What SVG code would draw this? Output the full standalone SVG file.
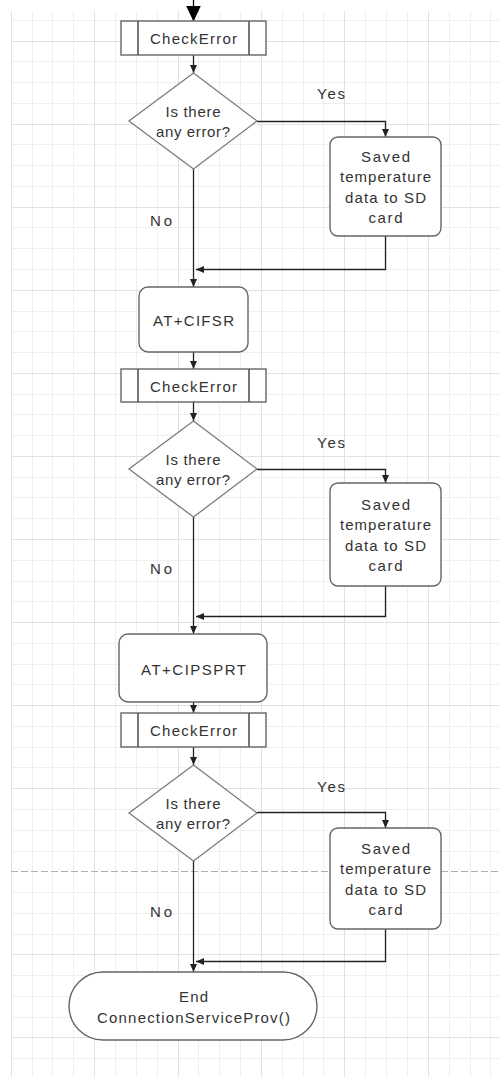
<svg xmlns="http://www.w3.org/2000/svg" width="500" height="1077" viewBox="0 0 500 1077">
  <defs>
    <marker id="arr" markerUnits="userSpaceOnUse" markerWidth="8" markerHeight="7" refX="8" refY="3.5" orient="auto">
      <path d="M0,0 L8,3.5 L0,7 z" fill="#222"/>
    </marker>
    <marker id="bigArr" markerUnits="userSpaceOnUse" markerWidth="16" markerHeight="15" refX="16" refY="7.5" orient="auto">
      <path d="M0,0 L16,7.5 L0,15 z" fill="#000"/>
    </marker>
  </defs>
  <style>
    .minor { stroke: #efefef; stroke-width: 1; fill: none; }
    .major { stroke: #e1e1e1; stroke-width: 1; fill: none; }
    .brk { stroke: #b0b0b0; stroke-width: 1; stroke-dasharray: 7 3; fill: none; }
    .shape { fill: #fff; stroke: #666; stroke-width: 1.4; }
    .dia { fill: #fff; stroke: #7a7a7a; stroke-width: 1.3; }
    .inner { stroke: #555; stroke-width: 1.6; fill: none; }
    .conn { fill: none; stroke: #222; stroke-width: 1.3; marker-end: url(#arr); }
    text { font-family: "Liberation Sans", Arial, sans-serif; font-size: 15px; fill: #333; text-anchor: middle; }
  </style>
  <rect x="0" y="0" width="500" height="1077" fill="#fff"/>
  <g id="grid">
    <path class="minor" d="M32.5 11V1077M52.5 11V1077M73.5 11V1077M115.5 11V1077M136.5 11V1077M157.5 11V1077M198.5 11V1077M219.5 11V1077M240.5 11V1077M282.5 11V1077M303.5 11V1077M323.5 11V1077M365.5 11V1077M386.5 11V1077M407.5 11V1077M449.5 11V1077M470.5 11V1077M490.5 11V1077
    M11 20.5H500M11 61.5H500M11 82.5H500M11 103.5H500M11 144.5H500M11 165.5H500M11 186.5H500M11 227.5H500M11 248.5H500M11 269.5H500M11 311.5H500M11 331.5H500M11 352.5H500M11 394.5H500M11 414.5H500M11 435.5H500M11 477.5H500M11 497.5H500M11 518.5H500M11 560.5H500M11 581.5H500M11 601.5H500M11 643.5H500M11 664.5H500M11 684.5H500M11 726.5H500M11 747.5H500M11 767.5H500M11 809.5H500M11 830.5H500M11 851.5H500M11 892.5H500M11 913.5H500M11 934.5H500M11 975.5H500M11 996.5H500M11 1017.5H500M11 1058.5H500"/>
    <path class="major" d="M11.5 11V1077M94.5 11V1077M178.5 11V1077M261.5 11V1077M344.5 11V1077M428.5 11V1077
    M11 41.5H500M11 124.5H500M11 207.5H500M11 290.5H500M11 373.5H500M11 456.5H500M11 539.5H500M11 622.5H500M11 705.5H500M11 788.5H500M11 954.5H500M11 1037.5H500"/>
    <path class="brk" d="M11 871.5H500"/>
  </g>

  <g id="connectors">
    <path d="M193.5 0V21.5" stroke="#000" stroke-width="1.3" fill="none" marker-end="url(#bigArr)"/>
    <path class="conn" d="M193.5 55V73"/>
    <path class="conn" d="M257 121.5H385.5V137"/>
    <path class="conn" d="M385.5 236V269.5H196"/>
    <path class="conn" d="M193.5 169V287"/>
    <path class="conn" d="M193.5 352V369"/>
    <path class="conn" d="M193.5 402V421"/>
    <path class="conn" d="M257 469.5H385.5V483"/>
    <path class="conn" d="M385.5 586V616.5H196"/>
    <path class="conn" d="M193.5 517V634"/>
    <path class="conn" d="M193.5 702V713"/>
    <path class="conn" d="M193.5 747V765"/>
    <path class="conn" d="M257 812.5H385.5V828"/>
    <path class="conn" d="M385.5 929V961.5H196"/>
    <path class="conn" d="M193.5 861V972"/>
  </g>

  <g id="labels">
    <text x="331" y="99" textLength="28">Yes</text>
    <text x="161" y="226" textLength="22">No</text>
    <text x="331" y="448" textLength="28">Yes</text>
    <text x="161" y="574" textLength="22">No</text>
    <text x="331" y="792" textLength="28">Yes</text>
    <text x="161" y="917" textLength="22">No</text>
  </g>

  <g id="checkerror1">
    <rect class="shape" x="121" y="21" width="145" height="34"/>
    <path class="inner" d="M138 21V55M249 21V55"/>
    <text x="193.5" y="44" textLength="87">CheckError</text>
  </g>
  <g id="decision1">
    <polygon class="dia" points="193.5,73 257,121 193.5,169 129,121"/>
    <text x="193" y="117" textLength="55">Is there</text>
    <text x="193" y="137" textLength="74">any error?</text>
  </g>
  <g id="save1">
    <rect class="shape" x="330" y="137" width="111" height="99" rx="8"/>
    <text x="385.5" y="162" textLength="49">Saved</text>
    <text x="385.5" y="182" textLength="91">temperature</text>
    <text x="385.5" y="203" textLength="81">data to SD</text>
    <text x="385.5" y="223" textLength="34">card</text>
  </g>
  <g id="cifsr">
    <rect class="shape" x="139" y="287" width="109" height="65" rx="9"/>
    <text x="193.5" y="326" textLength="81">AT+CIFSR</text>
  </g>

  <g id="checkerror2">
    <rect class="shape" x="121" y="369" width="145" height="33"/>
    <path class="inner" d="M138 369V402M249 369V402"/>
    <text x="193.5" y="392" textLength="87">CheckError</text>
  </g>
  <g id="decision2">
    <polygon class="dia" points="193.5,421 257,469 193.5,517 129,469"/>
    <text x="193" y="465" textLength="55">Is there</text>
    <text x="193" y="485" textLength="74">any error?</text>
  </g>
  <g id="save2">
    <rect class="shape" x="330" y="483" width="111" height="103" rx="8"/>
    <text x="385.5" y="510" textLength="49">Saved</text>
    <text x="385.5" y="530" textLength="91">temperature</text>
    <text x="385.5" y="551" textLength="81">data to SD</text>
    <text x="385.5" y="571" textLength="34">card</text>
  </g>
  <g id="cipsprt">
    <rect class="shape" x="119" y="634" width="148" height="68" rx="9"/>
    <text x="193.5" y="675" textLength="105">AT+CIPSPRT</text>
  </g>

  <g id="checkerror3">
    <rect class="shape" x="121" y="713" width="145" height="34"/>
    <path class="inner" d="M138 713V747M249 713V747"/>
    <text x="193.5" y="736" textLength="87">CheckError</text>
  </g>
  <g id="decision3">
    <polygon class="dia" points="193.5,765 257,813 193.5,861 129,813"/>
    <text x="193" y="809" textLength="55">Is there</text>
    <text x="193" y="829" textLength="74">any error?</text>
  </g>
  <g id="save3">
    <rect class="shape" x="330" y="828" width="111" height="101" rx="8"/>
    <text x="385.5" y="854" textLength="49">Saved</text>
    <text x="385.5" y="874" textLength="91">temperature</text>
    <text x="385.5" y="895" textLength="81">data to SD</text>
    <text x="385.5" y="915" textLength="34">card</text>
  </g>
  <g id="end">
    <rect class="shape" x="69" y="972" width="248" height="68" rx="34"/>
    <text x="193.5" y="1002" textLength="29">End</text>
    <text x="193.5" y="1023" textLength="193">ConnectionServiceProv()</text>
  </g>
</svg>
